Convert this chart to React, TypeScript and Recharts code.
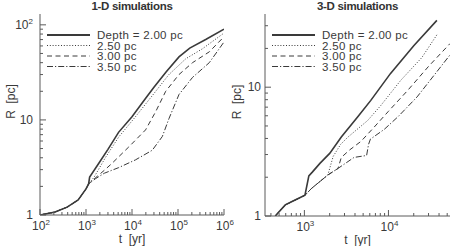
import { Legend, Line, LineChart, XAxis, YAxis } from 'recharts'

// legend text and line styles, one per depth
const legendLabels = ['Depth = 2.00 pc', '2.50 pc', '3.00 pc', '3.50 pc']
const dashStyles = ['', '1 1.8', '5 3.5', '6 2 1.2 2']

// 1-D simulations: [t (yr), R (pc)]
const oneD200 = [[100, 1.0], [213, 1.075], [389, 1.21], [676, 1.44], [1000, 1.88], [1140, 2.12], [1200, 2.5], [1900, 3.5], [3000, 4.9], [5100, 7.4], [10000, 10.8], [20000, 17], [30000, 22], [55000, 32], [105000, 46], [180000, 57], [400000, 70], [1000000, 90]]
const oneD250 = [[100, 1.0], [213, 1.075], [389, 1.21], [676, 1.44], [1000, 1.88], [1140, 2.12], [1500, 2.5], [2630, 4.0], [5130, 6.6], [11900, 10.8], [27600, 18.0], [63500, 30], [148000, 44], [340000, 56], [1000000, 82]]
const oneD300 = [[100, 1.0], [213, 1.075], [389, 1.21], [676, 1.44], [1000, 1.88], [1140, 2.12], [1590, 2.45], [2500, 2.95], [3690, 3.5], [8520, 5.2], [19700, 7.85], [32700, 12.2], [54000, 20], [105000, 30], [207000, 40], [479000, 52], [1000000, 75]]
const oneD350 = [[100, 1.0], [213, 1.075], [389, 1.21], [676, 1.44], [1000, 1.88], [1140, 2.12], [1590, 2.4], [2500, 2.75], [5130, 3.15], [11900, 3.8], [27600, 4.8], [45700, 6.7], [63500, 10.3], [105000, 18.5], [207000, 28], [479000, 40], [1000000, 66]]

// 3-D simulations: [t (yr), R (pc)]
const threeD200 = [[450, 1.0], [592, 1.22], [776, 1.33], [1016, 1.45], [1130, 2.05], [1250, 2.2], [1530, 2.56], [2000, 3.06], [2750, 4.1], [4320, 5.9], [6170, 7.9], [10600, 12.8], [20000, 21], [37700, 33]]
const threeD250 = [[450, 1.0], [592, 1.22], [776, 1.33], [1016, 1.45], [1220, 1.64], [1900, 2.08], [2200, 2.9], [2700, 3.6], [3300, 4.1], [5640, 5.5], [8100, 7.2], [14000, 11.3], [25000, 17], [37700, 25.5]]
const threeD300 = [[450, 1.0], [592, 1.22], [776, 1.33], [1016, 1.45], [1220, 1.64], [1900, 2.08], [2510, 2.34], [2750, 2.85], [3440, 3.25], [4720, 3.8], [6770, 4.9], [10000, 6.5], [16600, 9.3], [30000, 14.5], [54000, 21.8]]
const threeD350 = [[450, 1.0], [592, 1.22], [776, 1.33], [1016, 1.45], [1220, 1.64], [1900, 2.08], [2510, 2.34], [3900, 2.85], [5500, 2.95], [5800, 3.6], [6100, 3.95], [8900, 4.7], [13000, 5.9], [21900, 8.4], [54000, 17.8]]

const ink = '#3a3a3a'
const frame = '#5a5a5a'
const font = '"Liberation Sans", Arial, sans-serif'

const toRows = (pts: number[][]) => pts.map(([t, r]) => ({ t, r }))

// 1,2,...,9,10,20,... between lo and hi
const logTicks = (lo: number, hi: number) => {
  const out: number[] = []
  for (let e = Math.floor(Math.log10(lo)); e <= Math.ceil(Math.log10(hi)); e++) {
    for (let m = 1; m < 10; m++) {
      const v = m * Math.pow(10, e)
      if (v >= lo * 0.999 && v <= hi * 1.001) out.push(v)
    }
  }
  return out
}

const isMajor = (v: number) => {
  const e = Math.log10(v)
  return Math.abs(e - Math.round(e)) < 1e-6
}

const PowLabel = ({ v, plain }: { v: number; plain?: boolean }) => {
  const e = Math.round(Math.log10(v))
  if (plain && e <= 1) return <>{String(Math.round(v))}</>
  return (
    <>
      10
      <tspan dy={-5} fontSize={8}>
        {e}
      </tspan>
    </>
  )
}

const BottomTick = (p: any) => {
  const { x, y, payload } = p
  const major = isMajor(payload.value)
  return (
    <g>
      <line x1={x} x2={x} y1={y} y2={y - (major ? 6 : 3)} stroke={frame} />
      {major && (
        <text x={x + 1} y={y + 15} textAnchor="middle" fontSize={12} fill={ink} fontFamily={font}>
          <PowLabel v={payload.value} />
        </text>
      )}
    </g>
  )
}

const TopTick = (p: any) => {
  const { x, y, payload } = p
  const major = isMajor(payload.value)
  return <line x1={x} x2={x} y1={y} y2={y + (major ? 6 : 3)} stroke={frame} />
}

const makeLeftTick = (gap: number) => (p: any) => {
  const { x, y, payload } = p
  const major = isMajor(payload.value)
  return (
    <g>
      <line x1={x} x2={x + (major ? 6 : 3)} y1={y} y2={y} stroke={frame} />
      {major && (
        <text x={x - gap} y={y + 4} textAnchor="end" fontSize={12} fill={ink} fontFamily={font}>
          <PowLabel v={payload.value} plain />
        </text>
      )}
    </g>
  )
}

const RightTick = (p: any) => {
  const { x, y, payload } = p
  const major = isMajor(payload.value)
  return <line x1={x} x2={x - (major ? 6 : 3)} y1={y} y2={y} stroke={frame} />
}

const YTitle = ({ viewBox }: any) => {
  const cx = viewBox.x + 11
  const cy = viewBox.y + viewBox.height / 2 - 13
  return (
    <text x={cx} y={cy} transform={`rotate(-90 ${cx} ${cy})`} textAnchor="middle" dominantBaseline="central" fontSize={12} fill={ink} fontFamily={font}>
      {'R\u00a0\u00a0[pc]'}
    </text>
  )
}

const XTitle = ({ viewBox }: any) => (
  <text x={viewBox.x + viewBox.width / 2} y={viewBox.y + 28} textAnchor="middle" fontSize={12} fill={ink} fontFamily={font}>
    {'t\u00a0\u00a0[yr]'}
  </text>
)

const LegendBox = () => (
  <svg width={150} height={46} style={{ display: 'block' }}>
    {legendLabels.map((label, i) => {
      const y = 6 + i * 10.5
      return (
        <g key={label}>
          <line x1={1} x2={44} y1={y} y2={y} stroke={ink} strokeWidth={i === 0 ? 1.8 : 1} strokeDasharray={dashStyles[i] || undefined} />
          <text x={51} y={y + 4} fontSize={11.5} letterSpacing={0.3} fill={ink} fontFamily={font}>
            {label}
          </text>
        </g>
      )
    })}
  </svg>
)

interface PanelProps {
  title: string
  series: number[][][]
  xDomain: [number, number]
  yDomain: [number, number]
  yAxisWidth: number
  bottomHeight: number
  labelGap: number
  left: number
  overhang: number
}

const Panel = ({ title, series, xDomain, yDomain, yAxisWidth, bottomHeight, labelGap, left, overhang }: PanelProps) => {
  const xTicks = logTicks(xDomain[0], xDomain[1])
  const yTicks = logTicks(yDomain[0], yDomain[1])
  return (
    <div style={{ position: 'absolute', left, top: 0, width: 226 + overhang, height: 246 }}>
      <div
        style={{
          position: 'absolute',
          top: 0,
          left: yAxisWidth,
          width: 226 - yAxisWidth - 2,
          textAlign: 'center',
          fontFamily: font,
          fontWeight: 'bold',
          fontSize: 11.5,
          lineHeight: '13px',
          color: '#333',
          letterSpacing: -0.3,
        }}
      >
        {title}
      </div>
      <LineChart width={226 + overhang} height={246} margin={{ top: 14, right: 2 + overhang, bottom: 0, left: 0 }}>
        <XAxis
          type="number"
          dataKey="t"
          scale="log"
          domain={xDomain}
          allowDataOverflow
          ticks={xTicks}
          interval={0}
          tick={BottomTick}
          tickLine={false}
          tickSize={0}
          tickMargin={0}
          height={bottomHeight}
          axisLine={{ stroke: frame }}
          label={<XTitle />}
        />
        <XAxis
          xAxisId="top"
          orientation="top"
          type="number"
          dataKey="t"
          scale="log"
          domain={xDomain}
          allowDataOverflow
          ticks={xTicks}
          interval={0}
          tick={TopTick}
          tickLine={false}
          tickSize={0}
          tickMargin={0}
          height={0}
          axisLine={{ stroke: frame }}
        />
        <YAxis
          type="number"
          dataKey="r"
          scale="log"
          domain={yDomain}
          allowDataOverflow
          ticks={yTicks}
          interval={0}
          tick={makeLeftTick(labelGap)}
          tickLine={false}
          tickSize={0}
          tickMargin={0}
          width={yAxisWidth}
          axisLine={{ stroke: frame }}
          label={<YTitle />}
        />
        <YAxis
          yAxisId="right"
          orientation="right"
          type="number"
          dataKey="r"
          scale="log"
          domain={yDomain}
          allowDataOverflow
          ticks={yTicks}
          interval={0}
          tick={RightTick}
          tickLine={false}
          tickSize={0}
          tickMargin={0}
          width={0}
          axisLine={{ stroke: frame }}
        />
        <Legend
          layout="vertical"
          align="center"
          verticalAlign="middle"
          content={<LegendBox />}
          wrapperStyle={{ position: 'absolute', top: 29, left: yAxisWidth + 6, width: 150, height: 46 }}
        />
        {series.map((pts, i) => (
          <Line
            key={legendLabels[i]}
            data={toRows(pts)}
            dataKey="r"
            name={legendLabels[i]}
            type="linear"
            stroke={ink}
            strokeWidth={i === 0 ? 1.6 : 1}
            strokeDasharray={dashStyles[i] || undefined}
            dot={false}
            activeDot={false}
            isAnimationActive={false}
          />
        ))}
      </LineChart>
    </div>
  )
}

export default function App() {
  return (
    <div style={{ position: 'absolute', left: 0, top: 0, width: 452, height: 246, background: '#fff' }}>
      <Panel
        title="1-D simulations"
        series={[oneD200, oneD250, oneD300, oneD350]}
        xDomain={[100, 1000000]}
        yDomain={[1, 130]}
        yAxisWidth={40}
        bottomHeight={31}
        labelGap={7}
        left={0}
        overhang={8}
      />
      <Panel
        title="3-D simulations"
        series={[threeD200, threeD250, threeD300, threeD350]}
        xDomain={[340, 54000]}
        yDomain={[1, 37]}
        yAxisWidth={39}
        bottomHeight={30}
        labelGap={4}
        left={226}
        overhang={0}
      />
    </div>
  )
}
